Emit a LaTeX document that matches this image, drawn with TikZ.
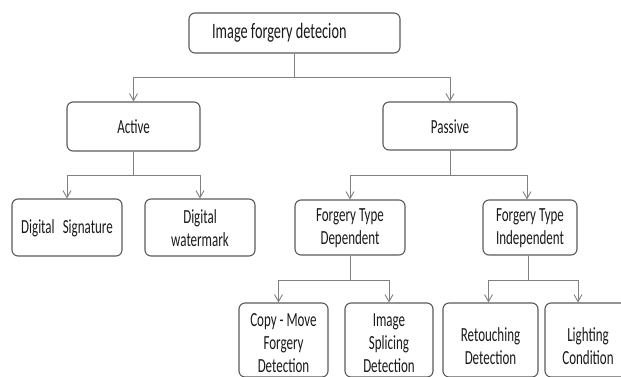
\documentclass[tikz,border=0pt]{standalone}
\usepackage{fontspec}
\setmainfont{Carlito}
\usetikzlibrary{arrows.meta}
\definecolor{boxc}{HTML}{5A5A5A}
\definecolor{linec}{HTML}{808080}
\definecolor{txt}{HTML}{1A1A1A}
\begin{document}
\begin{tikzpicture}[x=1pt,y=-1pt,
  box/.style={draw=boxc, line width=1.1pt, rounded corners=6pt, inner sep=0pt},
  lbl/.style={align=center, inner sep=0pt, text=txt, xscale=0.65, transform shape,
    font=\fontsize{20}{23}\selectfont},
  conn/.style={draw=linec, line width=0.9pt, -{Straight Barb[length=7pt,width=8pt]}}]
\useasboundingbox (0,0) rectangle (621,376);
\clip (0,0) rectangle (621,376);
\fill[white] (0,0) rectangle (621,376);

\node[box, minimum width=211pt, minimum height=40pt] (top) at (294.5,33) {};
\node[lbl, anchor=west, font=\fontsize{22}{25}\selectfont] (topt) at (212,33) {Image forgery detecion};

\node[box, minimum width=133pt, minimum height=49pt] (act) at (133.5,126.5) {};
\node[lbl] (actt) at (133.5,127) {Active};
\node[box, minimum width=134pt, minimum height=48pt] (pas) at (450,126) {};
\node[lbl] (past) at (450,127) {Passive};

\node[box, minimum width=110pt, minimum height=57pt] (ds) at (67,227.5) {};
\node[lbl] (dst) at (67,228) {Digital\hspace{8pt} Signature};
\node[box, minimum width=110pt, minimum height=57pt] (dw) at (200,227.5) {};
\node[lbl] (dwt) at (200,228) {Digital\\watermark};
\node[box, minimum width=110pt, minimum height=55pt] (dep) at (350,227.5) {};
\node[lbl] (dept) at (350,228) {Forgery Type\\Dependent};
\node[box, minimum width=94pt, minimum height=55pt] (ind) at (530,227.5) {};
\node[lbl] (indt) at (530,228) {Forgery Type\\Independent};

\node[box, minimum width=89pt, minimum height=74pt] (cm) at (283.5,340) {};
\node[box, minimum width=88pt, minimum height=74pt] (is) at (389,340) {};
\node[box, minimum width=95pt, minimum height=74pt] (rt) at (490.5,340) {};
\node[box, minimum width=86pt, minimum height=74pt] (lc) at (588,340) {};

\node[lbl] (cmt) at (283.5,343) {Copy - Move\\Forgery\\Detection};
\node[lbl] (ist) at (389,343) {Image\\Splicing\\Detection};
\node[lbl] (rtt) at (490.5,346) {Retouching\\Detection};
\node[lbl] (lct) at (588,346) {Lighting\\Condition};

\draw[conn] (top.south) -- ++(0,24) -| (act.north);
\draw[conn] (top.south) -- ++(0,24) -| (pas.north);

\draw[conn] (act.south) -- ++(0,24) -| (ds.north);
\draw[conn] (act.south) -- ++(0,24) -| (dw.north);

\draw[conn] (pas.south) -- ++(0,25) -| (dep.north);
\draw[conn] (pas.south) -- ++(0,25) -| ([xshift=-3pt]ind.north);

\draw[conn] (dep.south) -- ++(0,25) -| ([xshift=-5pt]cm.north);
\draw[conn] (dep.south) -- ++(0,25) -| (is.north);

\draw[conn] ([xshift=-2pt]ind.south) -- ++(0,25) -| ([xshift=-2pt]rt.north);
\draw[conn] ([xshift=-2pt]ind.south) -- ++(0,25) -| ([xshift=-10pt]lc.north);
\end{tikzpicture}
\end{document}
